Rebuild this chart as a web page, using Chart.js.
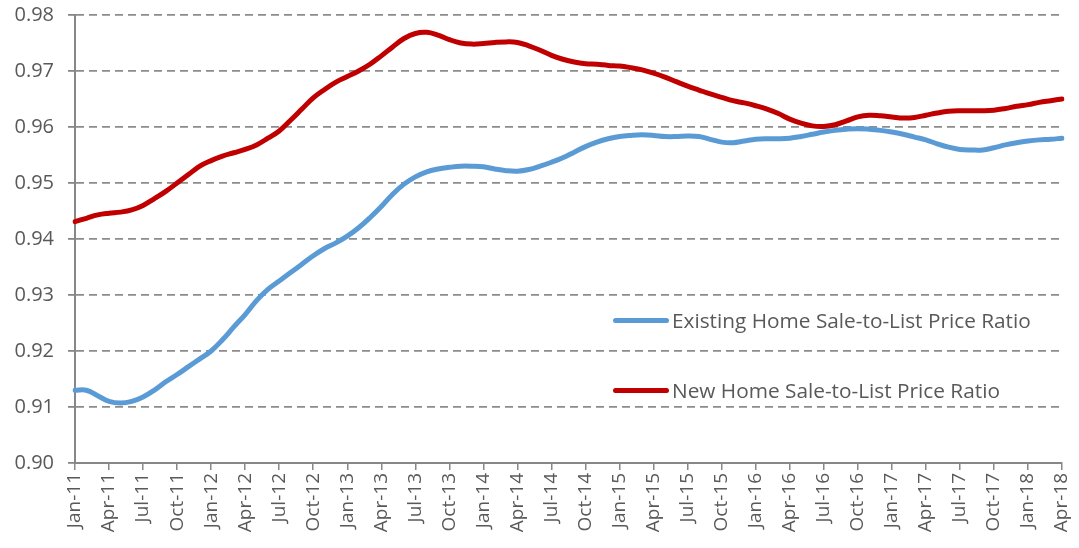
<!DOCTYPE html>
<html>
<head>
<meta charset="utf-8">
<script src="https://cdn.jsdelivr.net/npm/chart.js@4/dist/chart.umd.min.js"></script>
<style>
  html, body { margin: 0; padding: 0; background: #fff; }
  #wrap { position: relative; width: 1079px; height: 548px; }
  .legend-item { position: absolute; left: 613px; display: flex; align-items: center;
    font-family: 'Open Sans', sans-serif; font-size: 20.8px; color: #595959; white-space: nowrap; }
  .legend-swatch { width: 56px; height: 5px; border-radius: 3px; margin-right: 3px; }
</style>
</head>
<body>
<div id="wrap">
  <canvas id="ratioChart" width="1079" height="548"></canvas>
  <div class="legend-item" style="top:306px"><span class="legend-swatch" style="background:#5B9BD5"></span>Existing Home Sale-to-List Price Ratio</div>
  <div class="legend-item" style="top:376px"><span class="legend-swatch" style="background:#C00000"></span>New Home Sale-to-List Price Ratio</div>
</div>
<script>
// ---------------------------------------------------------------
// DATA (monthly, Jan-11 .. Apr-18)
// ---------------------------------------------------------------

const monthNames = ['Jan', 'Feb', 'Mar', 'Apr', 'May', 'Jun', 'Jul', 'Aug', 'Sep', 'Oct', 'Nov', 'Dec'];
const years = ['11', '12', '13', '14', '15', '16', '17', '18'];

const existingRatio = [
  0.9130, 0.9130, 0.9120, 0.9110, 0.9107, 0.9110, 0.9118, 0.9130, 0.9145, 0.9158, 0.9172, 0.9186,
  0.9200, 0.9220, 0.9243, 0.9265, 0.9290, 0.9310, 0.9325, 0.9340, 0.9355, 0.9370, 0.9383, 0.9393,
  0.9405, 0.9420, 0.9438, 0.9458, 0.9480, 0.9498, 0.9511, 0.9520, 0.9525, 0.9528, 0.9530, 0.9530,
  0.9529, 0.9525, 0.9522, 0.9521, 0.9524, 0.9530, 0.9537, 0.9545, 0.9555, 0.9565, 0.9573, 0.9579,
  0.9583, 0.9585, 0.9586, 0.9585, 0.9583, 0.9583, 0.9584, 0.9583, 0.9578, 0.9573, 0.9572, 0.9575,
  0.9578, 0.9579, 0.9579, 0.9580, 0.9583, 0.9587, 0.9591, 0.9594, 0.9596, 0.9597, 0.9596, 0.9594,
  0.9591, 0.9587, 0.9582, 0.9577, 0.9570, 0.9564, 0.9560, 0.9559, 0.9559, 0.9563, 0.9568, 0.9572,
  0.9575, 0.9577, 0.9578, 0.9580
];

const newRatio = [
  0.9431, 0.9437, 0.9443, 0.9446, 0.9448, 0.9452, 0.9460, 0.9472, 0.9485, 0.9500, 0.9515, 0.9530,
  0.9540, 0.9548, 0.9554, 0.9560, 0.9568, 0.9580, 0.9593, 0.9612, 0.9632, 0.9652, 0.9667, 0.9680,
  0.9690, 0.9700, 0.9712, 0.9727, 0.9743, 0.9758, 0.9767, 0.9769, 0.9764, 0.9756, 0.9750, 0.9748,
  0.9749, 0.9751, 0.9752, 0.9751, 0.9745, 0.9737, 0.9728, 0.9721, 0.9716, 0.9713, 0.9712, 0.9710,
  0.9709, 0.9706, 0.9702, 0.9696, 0.9689, 0.9681, 0.9673, 0.9666, 0.9659, 0.9653, 0.9647, 0.9643,
  0.9638, 0.9632, 0.9624, 0.9614, 0.9607, 0.9602, 0.9601, 0.9604, 0.9611, 0.9618, 0.9621, 0.9620,
  0.9618, 0.9616, 0.9617, 0.9621, 0.9625, 0.9628, 0.9629, 0.9629, 0.9629, 0.9630, 0.9633, 0.9637,
  0.9640, 0.9644, 0.9647, 0.9650
];

const categories = [];
years.forEach((y) => monthNames.forEach((m) => categories.push(m + '-' + y)));
categories.length = existingRatio.length;

const yMin = 0.90;
const yMax = 0.98;
const yStep = 0.01;

// ---------------------------------------------------------------
// CHART
// ---------------------------------------------------------------

const axisGray = '#878787';
const textGray = '#595959';

new Chart(document.getElementById('ratioChart').getContext('2d'), {
  type: 'line',
  data: {
    labels: categories,
    datasets: [
      {
        label: 'Existing Home Sale-to-List Price Ratio',
        data: existingRatio,
        borderColor: '#5B9BD5',
        borderWidth: 5,
        tension: 0.4,
        pointRadius: 0,
        borderCapStyle: 'round'
      },
      {
        label: 'New Home Sale-to-List Price Ratio',
        data: newRatio,
        borderColor: '#C00000',
        borderWidth: 5,
        tension: 0.4,
        pointRadius: 0,
        borderCapStyle: 'round'
      }
    ]
  },
  options: {
    responsive: false,
    animation: false,
    layout: { padding: { top: 15, right: 17, left: 0, bottom: 0 } },
    plugins: { legend: { display: false }, tooltip: { enabled: false } },
    scales: {
      x: {
        offset: false,
        afterFit: (scale) => {
          scale.height = 85;
          scale.paddingLeft = 0;
          scale.paddingRight = 0;
        },
        border: { color: axisGray, width: 2 },
        grid: {
          drawOnChartArea: false,
          tickLength: 7,
          color: (ctx) => (ctx.index % 3 === 0 ? axisGray : 'rgba(0,0,0,0)'),
          lineWidth: 1.5
        },
        ticks: {
          autoSkip: false,
          maxRotation: 90,
          minRotation: 90,
          padding: 3,
          color: textGray,
          font: { family: "'Open Sans', sans-serif", size: 19 },
          callback: (value, index) => (index % 3 === 0 ? categories[index] : '')
        }
      },
      y: {
        min: yMin,
        max: yMax,
        afterFit: (scale) => {
          scale.width = 75;
          scale.paddingTop = 0;
          scale.paddingBottom = 0;
        },
        border: { color: axisGray, width: 2, dash: [8, 5] },
        grid: {
          color: '#8c8c8c',
          lineWidth: 1.8,
          tickLength: 7,
          tickColor: axisGray
        },
        ticks: {
          stepSize: yStep,
          padding: 14,
          color: textGray,
          font: { family: "'Open Sans', sans-serif", size: 20 },
          callback: (value) => value.toFixed(2)
        }
      }
    }
  }
});
</script>
</body>
</html>
